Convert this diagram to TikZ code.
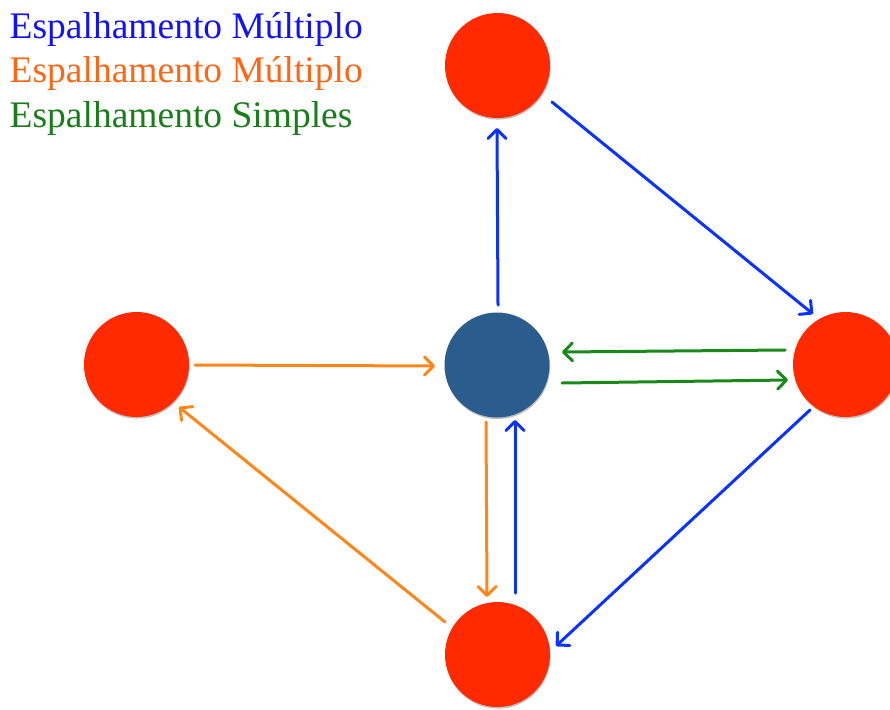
\documentclass[tikz,border=0pt]{standalone}
\usepackage{fontspec}
\setmainfont{Liberation Serif}
\usetikzlibrary{arrows.meta,shadows}
\definecolor{txtblue}{RGB}{18,18,245}
\definecolor{txtorange}{RGB}{255,102,20}
\definecolor{txtgreen}{RGB}{25,125,25}
\definecolor{arrblue}{RGB}{12,50,255}
\definecolor{arrorange}{RGB}{255,135,25}
\definecolor{arrgreen}{RGB}{25,138,25}
\definecolor{ballred}{RGB}{255,42,0}
\definecolor{ballblue}{RGB}{42,92,142}
\tikzset{
  ball/.style={circle,minimum size=105pt,inner sep=0pt,draw=none,
    drop shadow={shadow xshift=0.6pt,shadow yshift=-1.6pt,opacity=0.25,fill=black}},
  redball/.style={ball,fill=ballred},
  blueball/.style={ball,fill=ballblue},
  conn/.style={line width=3pt,line cap=round,
    -{Straight Barb[length=9pt,width=18pt,line width=3pt,round]}},
  legend/.style={anchor=base west,inner sep=0pt,font=\fontsize{37.5}{44.5}\selectfont}
}
\begin{document}
\begin{tikzpicture}[x=1pt,y=-1pt]
\useasboundingbox (0,0) rectangle (890,709);
\node[redball] (T) at (497.5,65.5) {};
\node[redball] (L) at (136.5,364.5) {};
\node[blueball] (C) at (497,365) {};
\node[redball] (R) at (845.5,364.5) {};
\node[redball] (B) at (497.5,654.5) {};
\node[legend,text=txtblue] (t1) at (9.5,38) {Espalhamento Múltiplo};
\node[legend,text=txtorange] (t2) at (9.5,82.5) {Espalhamento Múltiplo};
\node[legend,text=txtgreen] (t3) at (9.5,127) {Espalhamento Simples};
% blue
\draw[conn,arrblue] ([shift={(1,-60)}]C.center) -- ([shift={(-0.5,62.5)}]T.center);
\draw[conn,arrblue] ([shift={(54.5,36.5)}]T.center) -- ([shift={(-32.5,-50.5)}]R.center);
\draw[conn,arrblue] ([shift={(-35.5,45.5)}]R.center) -- ([shift={(58.5,-8.5)}]B.center);
\draw[conn,arrblue] ([shift={(17.5,-61.5)}]B.center) -- ([shift={(18,55)}]C.center);
% orange
\draw[conn,arrorange] ([shift={(58.5,0.5)}]L.center) -- ([shift={(-62,1)}]C.center);
\draw[conn,arrorange] ([shift={(-11,57)}]C.center) -- ([shift={(-10.5,-57.5)}]B.center);
\draw[conn,arrorange] ([shift={(-52.5,-32.5)}]B.center) -- ([shift={(42.5,42.5)}]L.center);
% green
\draw[conn,arrgreen] ([shift={(-60.5,-14.5)}]R.center) -- ([shift={(65,-13)}]C.center);
\draw[conn,arrgreen] ([shift={(65,18)}]C.center) -- ([shift={(-57.5,15.5)}]R.center);
\end{tikzpicture}
\end{document}
